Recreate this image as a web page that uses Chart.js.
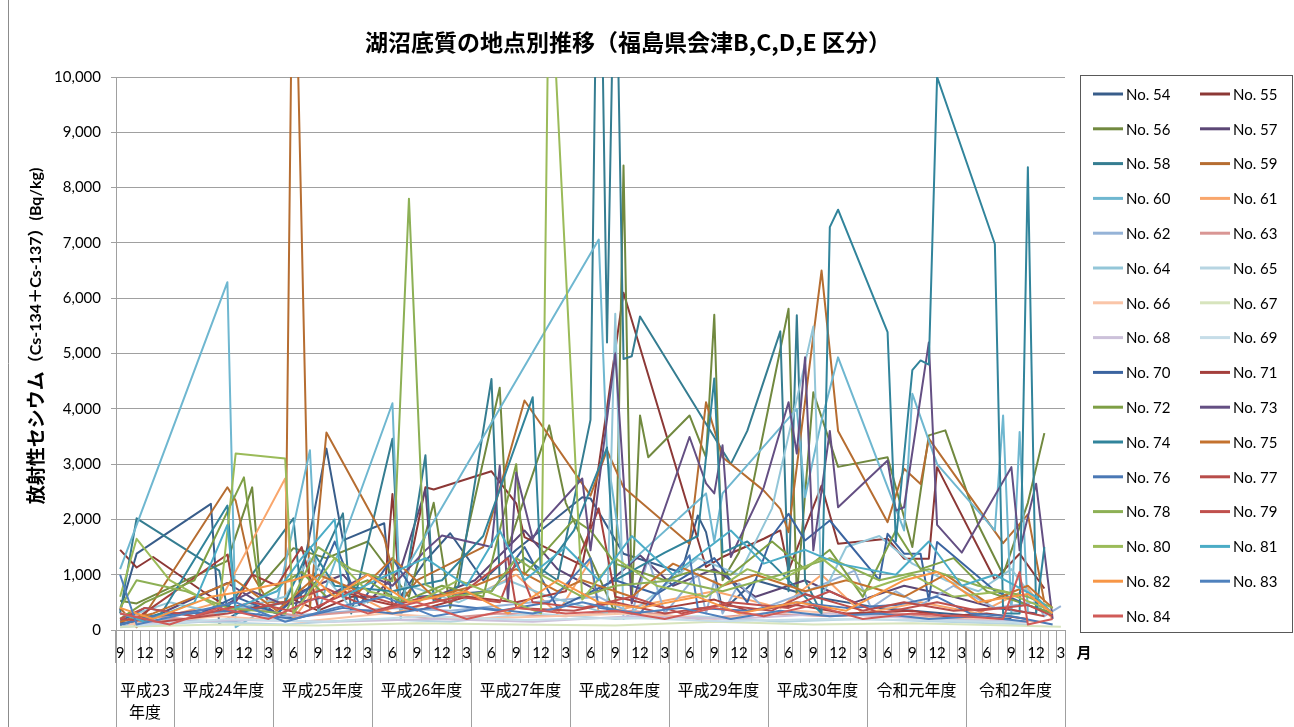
<!DOCTYPE html>
<html lang="ja">
<head>
<meta charset="utf-8">
<title>湖沼底質の地点別推移</title>
<script src="https://cdn.jsdelivr.net/npm/chart.js@4.4.1/dist/chart.umd.min.js"></script>
<style>
  html, body { margin: 0; padding: 0; background: #fff; }
  #wrap { width: 1294px; height: 727px; }
</style>
</head>
<body>
<div id="wrap"><canvas id="chart" width="1294" height="727"></canvas></div>
<script>
// 月の区分: 2011年9月 〜 2021年3月 (index 0 = 2011/9)
const months = [];
for (let y = 2011, m = 9; y < 2021 || m <= 3; ) {
  months.push(y + '/' + m);
  m++;
  if (m > 12) { m = 1; y++; }
}

const fiscalYears = ['平成23年度', '平成24年度', '平成25年度', '平成26年度', '平成27年度',
  '平成28年度', '平成29年度', '平成30年度', '令和元年度', '令和2年度'];
const fiscalStart = [0, 7, 19, 31, 43, 55, 67, 79, 91, 103, 115];

const yTicks = [0, 1000, 2000, 3000, 4000, 5000, 6000, 7000, 8000, 9000, 10000];

// 地点ごとの測定値 [月index, Bq/kg]
const no54 = [[0,350],[2,1380],[11,2280],[12,120],[16,450],[21,200],[25,3280],[27,1620],[32,1930],[33,400],[37,1250],[40,1750],[44,900],[48,1450],[52,1920],[56,2400],[57,2380],[61,1380],[68,1040],[70,2070],[71,1770],[73,350],[77,900],[84,600],[92,400],[100,300],[108,200]];
const no55 = [[0,1450],[2,1130],[4,1320],[10,700],[13,420],[17,400],[21,550],[24,350],[28,600],[32,600],[33,2460],[34,400],[37,2580],[38,2540],[45,2870],[48,2290],[49,1680],[56,1170],[57,1930],[61,6100],[71,1140],[73,1320],[78,1650],[80,1800],[81,1080],[85,2610],[87,1560],[93,1650],[95,1290],[98,1290],[99,2945],[106,910],[109,1380],[112,750]];
const no56 = [[0,530],[2,480],[13,1250],[16,2580],[17,800],[21,1480],[25,1300],[30,1600],[35,600],[38,2300],[40,400],[46,4380],[47,1500],[52,3700],[54,2300],[60,300],[61,8400],[62,500],[63,3880],[64,3125],[69,3880],[71,3120],[72,5700],[73,900],[75,1400],[81,5810],[82,600],[84,4300],[87,2950],[93,3125],[96,1500],[98,3520],[100,3610],[104,1900],[107,1000],[110,2300],[112,3560]];
const no57 = [[0,150],[2,100],[13,850],[19,300],[22,700],[27,1000],[30,500],[34,1100],[37,2540],[38,600],[43,900],[49,1800],[53,1100],[58,700],[63,1350],[67,800],[72,1100],[77,600],[83,900],[89,500],[95,800],[101,600],[106,400],[111,300]];
const no58 = [[0,300],[2,2020],[12,1075],[13,400],[21,2020],[22,500],[27,2110],[28,300],[33,3460],[34,300],[37,3160],[38,500],[41,800],[45,4540],[46,900],[49,1300],[53,900],[57,3800],[58,15000],[59,5200],[60,13300],[61,4900],[62,4950],[63,5670],[74,3000],[76,3600],[80,5400],[81,700],[82,5690],[83,900],[85,300]];
const no59 = [[0,400],[2,50],[13,2580],[14,2340],[16,1000],[18,500],[20,500],[21,14000],[23,400],[25,3570],[32,1670],[34,500],[36,900],[40,1200],[44,1500],[49,4150],[57,2430],[59,3250],[61,2580],[69,1560],[71,4120],[73,3125],[78,2520],[80,2190],[81,1770],[85,6500],[87,3600],[93,1950],[95,2915],[97,2640],[98,3460],[107,1570],[110,2090],[112,500]];
const no60 = [[0,1100],[13,6290],[14,50],[19,500],[23,3250],[24,300],[25,800],[33,4100],[34,200],[35,1200],[58,7060],[59,3200],[61,1110],[71,2470],[72,1600],[73,2470],[82,4000],[83,2400],[85,3790],[87,4930],[95,1800],[96,4270],[99,3000],[106,1800],[107,3880],[108,300],[109,3580],[110,300]];
const no61 = [[0,100],[7,300],[12,500],[20,2740],[21,200],[25,1000],[29,600],[33,300],[38,500],[44,700],[48,1000],[53,300],[57,1260],[58,300],[65,500],[72,700],[80,400],[85,1000],[90,300],[97,500],[104,300],[110,750],[113,200]];
const no62 = [[0,80],[6,200],[13,150],[24,300],[33,400],[40,350],[50,500],[58,600],[62,300],[64,1290],[66,300],[70,1020],[71,300],[72,900],[73,300],[75,840],[78,400],[82,620],[89,1075],[91,400],[94,700],[97,450],[101,800],[106,400],[111,500],[112,250],[114,430]];
const no63 = [[0,300],[8,200],[15,400],[22,250],[30,350],[38,200],[46,300],[54,250],[62,350],[70,200],[78,300],[86,250],[94,300],[102,200],[110,150]];
const no64 = [[0,200],[6,500],[12,300],[20,600],[23,1300],[28,400],[35,800],[41,500],[47,900],[52,600],[59,300],[60,5720],[61,200],[66,800],[70,1300],[75,1000],[79,2200],[84,5490],[85,600],[88,1500],[92,1700],[96,1200],[100,900],[104,700],[108,1100],[112,300]];
const no65 = [[0,50],[10,150],[20,100],[30,200],[40,150],[50,300],[60,200],[70,250],[80,150],[90,200],[100,150],[110,100]];
const no66 = [[1,100],[12,250],[22,150],[32,300],[42,200],[52,250],[62,300],[72,200],[82,350],[92,250],[102,200],[112,150]];
const no67 = [[0,60],[12,100],[24,80],[36,120],[48,100],[60,80],[72,150],[84,100],[96,120],[108,80],[114,60]];
const no68 = [[3,120],[14,180],[26,150],[38,200],[50,150],[62,250],[74,200],[86,300],[98,200],[110,150]];
const no69 = [[2,80],[13,200],[25,150],[37,250],[49,180],[61,220],[73,160],[85,200],[97,180],[109,140]];
const no70 = [[0,150],[3,400],[9,250],[14,600],[19,300],[24,900],[26,1600],[29,450],[33,1300],[36,600],[45,700],[49,1500],[53,400],[60,900],[65,650],[72,1300],[76,500],[79,1700],[81,2100],[83,1620],[86,1980],[92,900],[93,1740],[95,1380],[97,1380],[98,530],[99,1590],[106,710],[110,450],[113,300]];
const no71 = [[2,210],[13,1365],[14,500],[16,1000],[19,800],[22,1500],[24,400],[27,700],[30,550],[36,350],[42,600],[48,500],[54,700],[58,2200],[60,600],[66,400],[72,550],[76,350],[82,450],[88,300],[96,350],[100,250],[105,300],[110,200]];
const no72 = [[0,200],[3,500],[9,900],[15,2760],[17,600],[22,1050],[25,600],[30,900],[34,500],[39,800],[44,600],[48,3000],[49,1000],[55,2000],[57,1800],[60,1200],[66,900],[70,1100],[74,1000],[79,1600],[83,1100],[86,1450],[90,600],[94,1800],[97,1100],[101,1300],[105,700],[109,500],[113,300]];
const no73 = [[0,100],[4,250],[12,400],[16,700],[20,450],[25,600],[30,1000],[33,800],[37,1440],[39,1710],[45,1500],[46,2970],[47,530],[48,2850],[50,1650],[51,1920],[56,2740],[57,1440],[60,5000],[62,480],[69,3490],[71,2650],[72,2470],[73,3340],[74,1320],[78,2580],[81,4120],[82,3190],[83,4930],[84,1440],[86,3600],[87,2220],[93,3065],[94,2160],[95,2220],[98,5200],[99,1900],[102,1400],[108,2945],[109,1440],[111,2645],[113,200]];
const no74 = [[0,100],[5,300],[13,2250],[14,300],[20,500],[23,1500],[26,800],[33,700],[39,900],[44,1700],[50,4210],[51,1000],[55,1800],[59,3300],[60,900],[66,1400],[70,1700],[72,4550],[73,1400],[76,1600],[79,1200],[85,300],[86,7285],[87,7600],[93,5385],[94,1600],[96,4700],[97,4875],[98,4800],[99,10000],[106,6980],[107,300],[109,300],[110,8370],[111,300],[112,1500]];
const no75 = [[0,150],[4,300],[9,600],[14,900],[19,350],[24,1000],[29,700],[33,1300],[38,600],[43,800],[48,1100],[53,700],[56,900],[62,600],[67,1200],[73,800],[77,1000],[83,700],[88,900],[95,600],[100,1000],[105,500],[110,800],[113,400]];
const no76 = [[0,100],[4,250],[13,350],[21,200],[27,400],[33,300],[40,450],[46,350],[52,500],[57,1300],[58,400],[63,300],[69,1350],[70,400],[76,350],[82,500],[88,400],[94,450],[99,600],[103,300],[108,250],[113,100]];
const no77 = [[0,200],[5,150],[13,300],[20,500],[25,750],[31,350],[37,600],[40,500],[47,1300],[48,400],[55,350],[60,500],[66,300],[73,450],[79,350],[83,650],[90,350],[95,500],[101,350],[107,400],[112,250]];
const no78 = [[0,400],[2,900],[8,700],[13,400],[20,300],[24,1500],[28,1100],[33,880],[35,7800],[37,820],[40,600],[45,700],[48,1300],[51,1000],[56,600],[60,800],[67,900],[73,700],[80,1000],[86,1300],[92,900],[98,1100],[104,800],[110,600],[113,400]];
const no79 = [[0,200],[3,400],[9,250],[16,500],[22,300],[28,700],[35,400],[41,600],[46,500],[48,1255],[50,500],[56,400],[62,600],[68,300],[74,500],[81,400],[86,700],[92,300],[99,500],[104,350],[110,450],[113,250]];
const no80 = [[0,600],[2,1650],[6,900],[12,400],[14,3190],[20,3100],[21,300],[26,1300],[30,700],[36,500],[41,900],[46,600],[51,300],[52,12500],[56,550],[60,1300],[65,800],[71,600],[76,1100],[80,900],[85,1300],[90,700],[96,1000],[101,600],[107,700],[112,400]];
const no81 = [[0,300],[3,150],[9,500],[13,1900],[14,400],[19,700],[22,1300],[26,2000],[27,600],[31,900],[37,1300],[42,800],[46,1800],[49,900],[54,1500],[58,900],[62,1700],[67,1000],[74,1800],[78,1200],[83,1450],[87,1200],[94,1000],[98,1600],[102,800],[106,1000],[111,600],[113,300]];
const no82 = [[0,400],[4,200],[11,600],[15,700],[21,900],[23,1000],[26,600],[30,1000],[35,500],[42,700],[47,300],[53,900],[58,500],[63,400],[70,600],[75,300],[82,500],[88,350],[95,900],[99,1050],[104,500],[110,650],[113,300]];
const no83 = [[0,1000],[2,100],[8,300],[14,500],[20,150],[26,400],[32,600],[38,250],[44,400],[50,300],[56,500],[62,300],[68,400],[74,200],[80,350],[86,250],[92,300],[98,200],[104,250],[110,150]];
const no84 = [[0,300],[6,100],[12,400],[18,200],[24,600],[30,300],[36,500],[42,200],[48,400],[54,300],[60,350],[66,200],[72,400],[78,250],[84,450],[90,200],[96,300],[102,250],[107,200],[109,1050],[110,100],[113,200]];

const seriesValues = [no54, no55, no56, no57, no58, no59, no60, no61, no62, no63, no64,
  no65, no66, no67, no68, no69, no70, no71, no72, no73, no74, no75, no76, no77, no78,
  no79, no80, no81, no82, no83, no84];
const seriesNames = seriesValues.map((_, i) => 'No. ' + (54 + i));
const seriesColors = ['#385D8A', '#8C3836', '#71893F', '#5C4776', '#357D91', '#B66D31',
  '#6FB7D0', '#F9A66C', '#95B3D7', '#D99694', '#93C6D8', '#B7D5E2', '#FAC5A8', '#D7E4BD',
  '#CCC1DA', '#C6DDE8', '#3B64A0', '#A43F3C', '#7E9F45', '#644F83', '#31849B', '#C4722F',
  '#4A78B5', '#B84D4A', '#8DB055', '#C0504D', '#9BBB59', '#4BACC6', '#F79646', '#4F81BD',
  '#D05B58'];

const FONT = "Lato, 'Noto Sans CJK JP', sans-serif";
const JP = "'Noto Sans CJK JP', Lato, sans-serif";

const datasets = seriesValues.map((s, k) => ({
  label: seriesNames[k],
  data: s.map(([i, v]) => ({ x: months[i], y: v })),
  borderColor: seriesColors[k],
  backgroundColor: seriesColors[k],
  borderWidth: 2,
  pointRadius: 0,
  tension: 0,
  borderJoinStyle: 'round',
  order: seriesValues.length - k
}));

// タイトル・軸タイトル・年度区分・凡例を描く
const decorations = {
  id: 'decorations',
  afterDraw(chart) {
    const { ctx, chartArea: a, scales: { x } } = chart;
    const H = chart.height;
    ctx.save();

    // 外枠(左)
    ctx.strokeStyle = '#8c8c8c';
    ctx.lineWidth = 1;
    ctx.beginPath();
    ctx.moveTo(8.5, 0); ctx.lineTo(8.5, H);
    ctx.stroke();

    // タイトル
    ctx.fillStyle = '#000';
    ctx.textAlign = 'center';
    ctx.textBaseline = 'middle';
    ctx.font = 'bold 23px ' + JP;
    ctx.fillText('湖沼底質の地点別推移（福島県会津B,C,D,E 区分）', 628, 42);

    // 縦軸タイトル
    const parts = [
      ['放射性セシウム', 'bold 19px ' + JP],
      ['（Cs-134＋Cs-137）', 'bold 16px ' + FONT],
      ['(Bq/kg)', 'bold 16px ' + FONT]
    ];
    let total = 0;
    parts.forEach(p => { ctx.font = p[1]; total += ctx.measureText(p[0]).width; });
    ctx.translate(36, 336);
    ctx.rotate(-Math.PI / 2);
    ctx.textAlign = 'left';
    let pos = -total / 2;
    parts.forEach(p => {
      ctx.font = p[1];
      ctx.fillText(p[0], pos, 0);
      pos += ctx.measureText(p[0]).width;
    });
    ctx.setTransform(1, 0, 0, 1, 0, 0);

    // 年度の区分線とラベル
    const step = x.getPixelForValue(1) - x.getPixelForValue(0);
    const edge = i => x.getPixelForValue(0) + (i - 0.5) * step;
    ctx.strokeStyle = '#a0a0a0';
    ctx.beginPath();
    fiscalStart.forEach(i => {
      const px = Math.round(edge(i)) + 0.5;
      ctx.moveTo(px, a.bottom); ctx.lineTo(px, H);
    });
    ctx.stroke();
    ctx.fillStyle = '#000';
    ctx.textAlign = 'center';
    ctx.font = '16px ' + JP;
    fiscalYears.forEach((name, k) => {
      const x0 = edge(fiscalStart[k]), x1 = edge(fiscalStart[k + 1]);
      const cx = (x0 + x1) / 2;
      if (ctx.measureText(name).width > x1 - x0 - 4) {
        ctx.fillText(name.slice(0, -2), cx, 690);
        ctx.fillText(name.slice(-2), cx, 712);
      } else {
        ctx.fillText(name, cx, 690);
      }
    });

    // 月
    ctx.font = 'bold 15px ' + JP;
    ctx.fillText('月', 1084, 652);

    // 凡例
    const lx = 1080, ly = 75, lw = 212, lh = 557;
    ctx.strokeStyle = '#595959';
    ctx.strokeRect(lx + 0.5, ly + 0.5, lw, lh);
    ctx.font = '15px ' + FONT;
    ctx.textAlign = 'left';
    ctx.lineWidth = 3;
    chart.data.datasets.forEach((ds, k) => {
      const col = k % 2, row = Math.floor(k / 2);
      const sx = lx + 13 + col * 107;
      const sy = ly + 19 + row * 34.8;
      ctx.strokeStyle = ds.borderColor;
      ctx.beginPath();
      ctx.moveTo(sx, sy); ctx.lineTo(sx + 30, sy);
      ctx.stroke();
      ctx.fillStyle = '#000';
      ctx.fillText(ds.label, sx + 33, sy + 1);
    });
    ctx.restore();
  }
};

new Chart(document.getElementById('chart'), {
  type: 'line',
  data: { labels: months, datasets: datasets },
  options: {
    responsive: false,
    animation: false,
    events: [],
    layout: { padding: { top: 77, right: 229, bottom: 0, left: 0 } },
    plugins: {
      legend: { display: false },
      title: { display: false },
      tooltip: { enabled: false }
    },
    scales: {
      x: {
        type: 'category',
        offset: true,
        afterFit: s => { s.height = 97; },
        border: { color: '#a0a0a0' },
        grid: { offset: true, drawOnChartArea: false, tickLength: 33, color: '#a0a0a0' },
        ticks: {
          autoSkip: false, maxRotation: 0, minRotation: 0, padding: -19,
          color: '#000', font: { family: FONT, size: 15 },
          callback: (v, i) => {
            const m = +months[i].split('/')[1];
            return m % 3 === 0 ? String(m) : '';
          }
        }
      },
      y: {
        min: 0, max: 10000,
        afterFit: s => { s.width = 116; },
        afterBuildTicks: s => { s.ticks = yTicks.map(v => ({ value: v })); },
        border: { color: '#a0a0a0' },
        grid: { color: '#a0a0a0', tickLength: 5 },
        ticks: {
          padding: 10, color: '#000', font: { family: FONT, size: 15 },
          callback: v => v.toLocaleString('en-US')
        }
      }
    }
  },
  plugins: [decorations]
});
</script>
</body>
</html>
